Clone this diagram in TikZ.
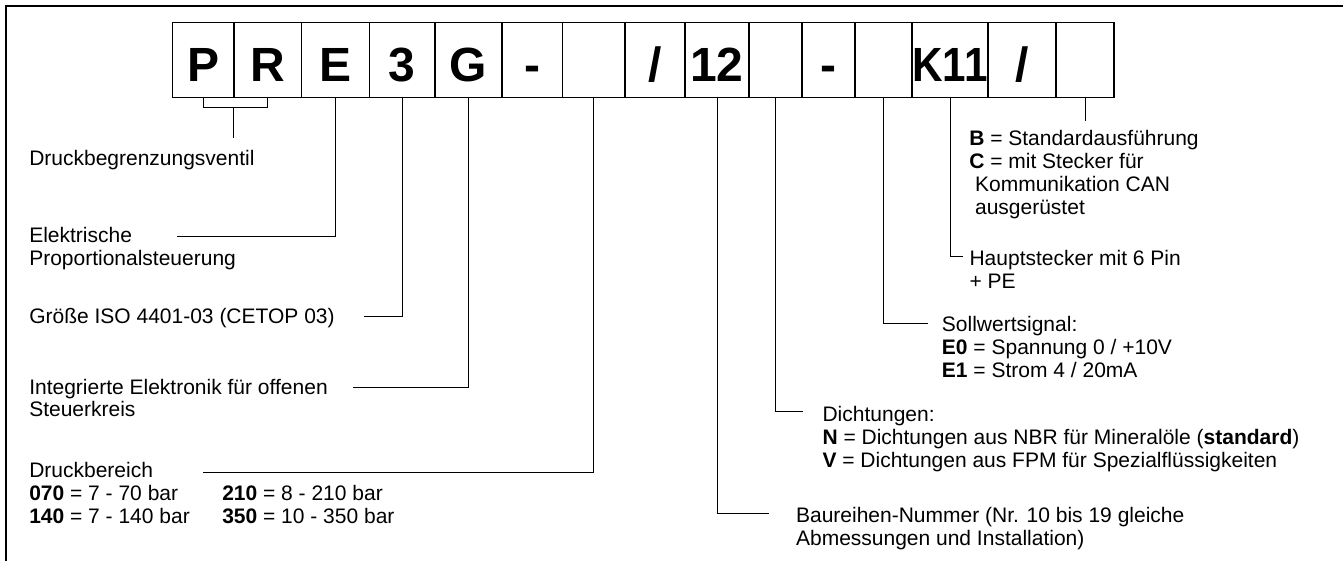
\documentclass[tikz,border=0pt]{standalone}
\usepackage{fontspec}
\setmainfont{Liberation Sans}
\usepackage{graphicx}

\tikzset{
  cell/.style={draw, line width=0.9pt, inner sep=0pt, minimum height=56.25pt,
    text height=32pt, text depth=0pt, font=\fontsize{36}{36}\selectfont\bfseries},
  txt/.style={anchor=base west, inner sep=0pt, align=left,
    font=\fontsize{15.75}{17.1}\selectfont},
  lead/.style={line width=0.7pt}
}

\begin{document}
\begin{tikzpicture}[x=0.75pt, y=-0.75pt]
    \useasboundingbox (0,0) rectangle (1343,561);

    \draw [line width=0.9pt] (1343,6) -- (6,6) -- (6,561);

    % code boxes
    \node [cell, minimum width=46.1pt] (cP) at (203.25,59.7) {P};
    \node [cell, minimum width=50.8pt] (cR) at (267.85,59.7) {R};
    \node [cell, minimum width=50.85pt] (cE) at (335.6,59.7) {E};
    \node [cell, minimum width=49.1pt] (c3) at (402.25,59.7) {3};
    \node [cell, minimum width=50.25pt] (cG) at (468.5,59.7) {G};
    \node [cell, minimum width=45.4pt] (cDa) at (532.25,59.7) {-};
    \node [cell, minimum width=46.9pt] (cBar) at (593.75,59.7) {};
    \node [cell, minimum width=45pt] (cSl) at (655,59.7) {/};
    \node [cell, minimum width=48pt] (c12) at (717,59.7) {12};
    \node [cell, minimum width=39.75pt] (cSeal) at (775.5,59.7) {};
    \node [cell, minimum width=39.75pt] (cDb) at (828.5,59.7) {-};
    \node [cell, minimum width=42.75pt] (cSig) at (883.5,59.7) {};
    \node [cell, minimum width=57pt] (cK) at (950,59.7) {\scalebox{0.88}[1]{K11}};
    \node [cell, minimum width=51pt] (cSlb) at (1022,59.7) {/};
    \node [cell, minimum width=43.5pt] (cOpt) at (1085,59.7) {};

    % texts (base = last line)
    \node [txt] (tDBV) at (29,165.5) {Druckbegrenzungsventil};
    \node [txt] (tE) at (29,265.3) {Elektrische\\Proportionalsteuerung};
    \node [txt] (t3) at (29,323.7) {Größe ISO 4401-03 (CETOP 03)};
    \node [txt] (tG) at (29,416.8) {Integrierte Elektronik für offenen\\Steuerkreis};
    \node [txt] (tBar) at (29,523) {Druckbereich\\\textbf{070} = 7 - 70 bar\\\textbf{140} = 7 - 140 bar};
    \node [txt] (tBarB) at (222,523) {\textbf{210} = 8 - 210 bar\\\textbf{350} = 10 - 350 bar};
    \node [txt] (tSer) at (795.8,545.3) {Baureihen-Nummer (Nr. 10 bis 19 gleiche\\Abmessungen und Installation)};
    \node [txt] (tSeal) at (822.3,467) {Dichtungen:\\\textbf{N} = Dichtungen aus NBR für Mineralöle (\textbf{standard})\\\textbf{V} = Dichtungen aus FPM für Spezialflüssigkeiten};
    \node [txt] (tSig) at (941.7,377) {Sollwertsignal:\\\textbf{E0} = Spannung 0 / +10V\\\textbf{E1} = Strom 4 / 20mA};
    \node [txt] (tCon) at (969.3,288.7) {Hauptstecker mit 6 Pin\\+ PE};
    \node [txt] (tOpt) at (969,214) {\textbf{B} = Standardausführung\\\textbf{C} = mit Stecker für\\\hspace*{0.278em}Kommunikation CAN\\\hspace*{0.278em}ausgerüstet};

    % leaders
    \coordinate (kPR) at (233.3,107.7);
    \coordinate (ePR) at (233.3,138.3);
    \draw [lead] (cP.south) |- (kPR) -| (cR.south);
    \draw [lead] (kPR) -- (ePR);

    \coordinate (eE) at (176.7,236);
    \draw [lead] (cE.south) |- (eE);
    \coordinate (e3) at (364,316.7);
    \draw [lead] (c3.south) |- (e3);
    \coordinate (eG) at (352.7,387.7);
    \draw [lead] (cG.south) |- (eG);
    \coordinate (eBar) at (203,472.3);
    \draw [lead] (cBar.south) |- (eBar);

    \coordinate (eSer) at (769.3,513.3);
    \draw [lead] (c12.south) |- (eSer);
    \coordinate (eSeal) at (802.5,411.7);
    \draw [lead] (cSeal.south) |- (eSeal);
    \coordinate (eSig) at (928.3,323.3);
    \draw [lead] (cSig.south) |- (eSig);
    \coordinate (eCon) at (963.3,256.7);
    \draw [lead] (cK.south) |- (eCon);
    \coordinate (eOpt) at (1085,120.7);
    \draw [lead] (cOpt.south) -- (eOpt);

\end{tikzpicture}
\end{document}
